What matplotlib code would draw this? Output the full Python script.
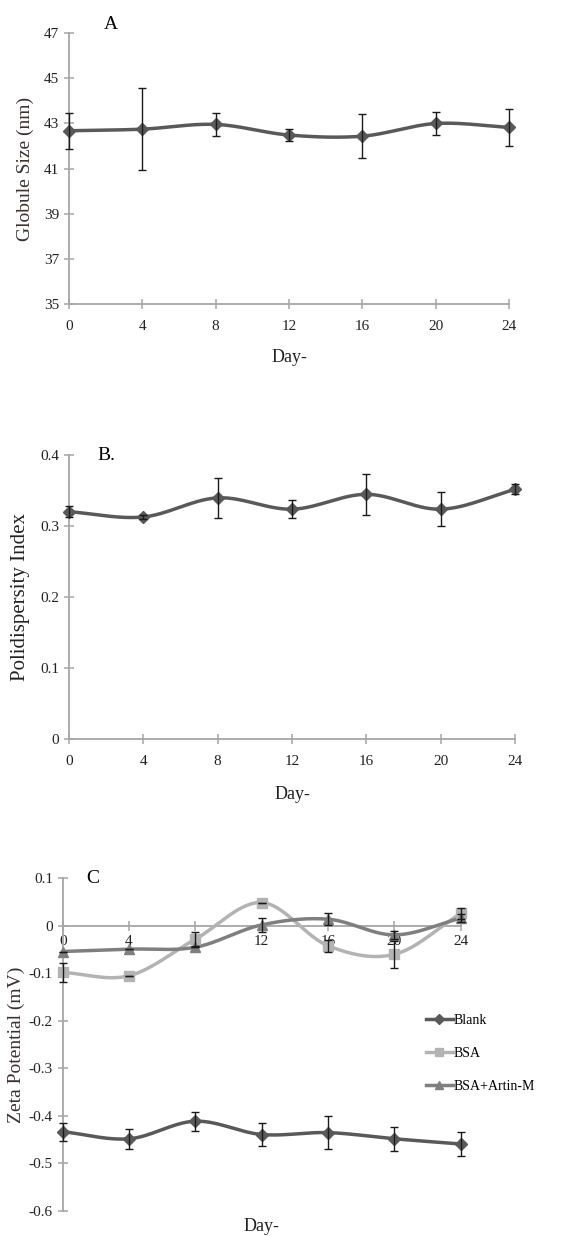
import numpy as np
import matplotlib
matplotlib.use("Agg")
import matplotlib.pyplot as plt
from matplotlib.lines import Line2D

plt.rcParams['font.family'] = ['Liberation Serif', 'DejaVu Serif']

days = [0, 4, 8, 12, 16, 20, 24]

size_mean = [42.67, 42.74, 42.95, 42.48, 42.43, 42.99, 42.82]
size_err = [0.8, 1.8, 0.5, 0.25, 0.97, 0.5, 0.83]

pdi_mean = [0.3205, 0.313, 0.340, 0.324, 0.345, 0.324, 0.352]
pdi_err = [0.008, 0.003, 0.028, 0.013, 0.029, 0.024, 0.007]

blank_mean = [-0.433, -0.448, -0.411, -0.439, -0.435, -0.448, -0.459]
blank_err = [0.019, 0.021, 0.02, 0.024, 0.035, 0.025, 0.025]
bsa_mean = [-0.098, -0.105, -0.028, 0.049, -0.042, -0.060, 0.026]
bsa_err = [0.02, 0.0, 0.015, 0.0, 0.012, 0.028, 0.012]
artin_mean = [-0.054, -0.049, -0.045, 0.002, 0.014, -0.019, 0.016]
artin_err = [0.0, 0.0, 0.0, 0.015, 0.013, 0.008, 0.008]

series_labels = ["Blank", "BSA", "BSA+Artin-M"]

AXC = '#a6a6a6'
TXT = '#222222'


def smooth(x, y, n=30):
    x = np.asarray(x, float)
    y = np.asarray(y, float)
    px = np.concatenate([[2 * x[0] - x[1]], x, [2 * x[-1] - x[-2]]])
    py = np.concatenate([[2 * y[0] - y[1]], y, [2 * y[-1] - y[-2]]])
    xs, ys = [], []
    t = np.linspace(0, 1, n)
    for i in range(1, len(px) - 2):
        p0, p1, p2, p3 = px[i - 1], px[i], px[i + 1], px[i + 2]
        q0, q1, q2, q3 = py[i - 1], py[i], py[i + 1], py[i + 2]
        c1x, c1y = p1 + (p2 - p0) / 6, q1 + (q2 - q0) / 6
        c2x, c2y = p2 - (p3 - p1) / 6, q2 - (q3 - q1) / 6
        bx = (1 - t) ** 3 * p1 + 3 * (1 - t) ** 2 * t * c1x + 3 * (1 - t) * t ** 2 * c2x + t ** 3 * p2
        by = (1 - t) ** 3 * q1 + 3 * (1 - t) ** 2 * t * c1y + 3 * (1 - t) * t ** 2 * c2y + t ** 3 * q2
        xs.append(bx)
        ys.append(by)
    return np.concatenate(xs), np.concatenate(ys)


def style_axes(ax):
    for s in ['top', 'right']:
        ax.spines[s].set_visible(False)
    for s in ['left', 'bottom']:
        ax.spines[s].set_color(AXC)
        ax.spines[s].set_linewidth(1.3)
    ax.tick_params(direction='inout', length=7, width=1.1, color=AXC,
                   labelsize=11, labelcolor=TXT)


def plot_series(ax, x, y, e, color, marker, ms, lw=2.5):
    sx, sy = smooth(x, y)
    ax.plot(sx, sy, color=color, lw=lw, clip_on=False, zorder=3)
    ax.plot(x, y, linestyle='none', marker=marker, color=color, ms=ms,
            clip_on=False, zorder=4)
    ax.errorbar(x, y, yerr=e, fmt='none', ecolor='#1a1a1a', elinewidth=1.0,
                capsize=3, capthick=1.0, clip_on=False, zorder=5)


fig = plt.figure(figsize=(5.66, 12.36), dpi=100)

# Panel A
axA = fig.add_axes([0.1214, 0.7538, 0.7784, 0.2197])
style_axes(axA)
plot_series(axA, days, size_mean, size_err, '#595959', 'D', 6)
axA.set_xlim(0, 24)
axA.set_ylim(35, 47)
axA.set_xticks(days)
axA.set_yticks([35, 37, 39, 41, 43, 45, 47])
axA.tick_params(axis='x', pad=8)
axA.set_xlabel('Day-', fontsize=13, color=TXT, labelpad=11)
axA.set_ylabel('Globule Size (nm)', fontsize=14, color='#3a3030', labelpad=7)
axA.text(0.096, 1.0, 'A', transform=axA.transAxes, fontsize=14,
         ha='center', va='bottom', color='black')

# Panel B
axB = fig.add_axes([0.1214, 0.4023, 0.789, 0.2293])
style_axes(axB)
plot_series(axB, days, pdi_mean, pdi_err, '#595959', 'D', 6)
axB.set_xlim(0, 24)
axB.set_ylim(0, 0.4)
axB.set_xticks(days)
axB.set_yticks([0, 0.1, 0.2, 0.3, 0.4])
axB.set_yticklabels(['0', '0.1', '0.2', '0.3', '0.4'])
axB.tick_params(axis='x', pad=8)
axB.set_xlabel('Day-', fontsize=13, color=TXT, labelpad=13)
axB.set_ylabel('Polidispersity Index', fontsize=15, color='#222222', labelpad=7)
axB.text(0.085, 1.0, 'B.', transform=axB.transAxes, fontsize=14,
         ha='center', va='center', color='black')

# Panel C
axC = fig.add_axes([0.1108, 0.0202, 0.7032, 0.2692])
style_axes(axC)
axC.spines['bottom'].set_position(('data', 0))
plot_series(axC, days, blank_mean, blank_err, '#595959', 'D', 6)
plot_series(axC, days, bsa_mean, bsa_err, '#b3b3b3', 's', 6.5)
plot_series(axC, days, artin_mean, artin_err, '#7f7f7f', '^', 7)
axC.set_xlim(0, 24)
axC.set_ylim(-0.6, 0.1)
axC.set_xticks(days)
axC.set_yticks([-0.6, -0.5, -0.4, -0.3, -0.2, -0.1, 0, 0.1])
axC.set_yticklabels(['-0.6', '-0.5', '-0.4', '-0.3', '-0.2', '-0.1', '0', '0.1'])
axC.tick_params(axis='x', pad=3)
for lab in axC.get_xticklabels():
    lab.set_zorder(6)
axC.set_xlabel('Day-', fontsize=13, color=TXT)
axC.xaxis.set_label_coords(0.5, -0.022)
axC.set_ylabel('Zeta Potential (mV)', fontsize=14, color='#3a3030', labelpad=3)
axC.text(0.075, 1.0, 'C', transform=axC.transAxes, fontsize=14,
         ha='center', va='center', color='black')

handles = [
    Line2D([], [], color='#595959', lw=2.5, marker='D', ms=5),
    Line2D([], [], color='#b3b3b3', lw=2.5, marker='s', ms=5.5),
    Line2D([], [], color='#7f7f7f', lw=2.5, marker='^', ms=6),
]
fig.legend(handles, series_labels, loc='upper left',
           bbox_to_anchor=(420 / 566, 1 - 1008 / 1236), frameon=False,
           fontsize=10, handlelength=2.0, handletextpad=0.05,
           labelspacing=1.45, borderaxespad=0)

fig.savefig('out.png', dpi=100)
